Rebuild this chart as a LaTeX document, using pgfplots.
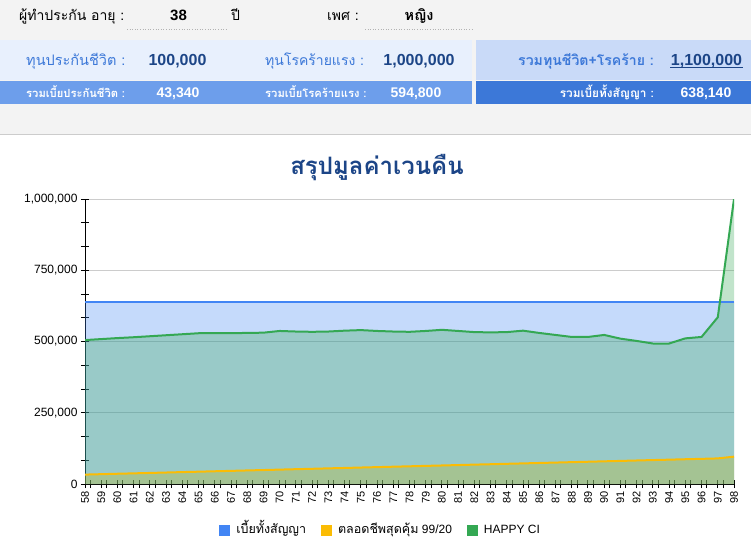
\documentclass[border=0pt]{standalone}
\usepackage{pgfplots}
\pgfplotsset{compat=1.18}
\usepackage{pgfplotstable}
\usepackage{fontspec}
\setmainfont{Liberation Sans}
\newfontfamily\thai[Script=Thai]{Loma}
\definecolor{gblue}{HTML}{4285F4}
\definecolor{gyellow}{HTML}{FBBC04}
\definecolor{ggreen}{HTML}{34A853}
\definecolor{hdrgray}{HTML}{F3F3F3}
\definecolor{lightband}{HTML}{E8F0FD}
\definecolor{rightband}{HTML}{C9DAF8}
\definecolor{midband}{HTML}{6D9EEB}
\definecolor{darkband}{HTML}{3C78D8}
\definecolor{lblblue}{HTML}{3C78D8}
\definecolor{navy}{HTML}{1C4587}
\definecolor{gridgray}{HTML}{CCCCCC}

\pgfplotstableread{
age tot lt hc
58 638140 33000 505000
59 638140 34500 508500
60 638140 36000 512000
61 638140 37400 515000
62 638140 38800 518500
63 638140 40300 522000
64 638140 41800 525500
65 638140 43200 529000
66 638140 44700 529000
67 638140 46100 529500
68 638140 47600 530000
69 638140 49000 531000
70 638140 50500 537000
71 638140 52000 535000
72 638140 53400 534000
73 638140 54900 535000
74 638140 56300 538000
75 638140 57800 540000
76 638140 59200 537000
77 638140 60700 535000
78 638140 62100 534000
79 638140 63600 537000
80 638140 65000 541000
81 638140 66500 537000
82 638140 68000 533000
83 638140 69400 532000
84 638140 70900 533000
85 638140 72300 538000
86 638140 73800 530000
87 638140 75200 523000
88 638140 76700 516000
89 638140 78100 516000
90 638140 79600 523000
91 638140 81000 510000
92 638140 82500 502000
93 638140 84000 493000
94 638140 85400 493000
95 638140 86900 511000
96 638140 88300 516000
97 638140 89800 585000
98 638140 96000 1000000
}\data

\begin{document}
\begin{tikzpicture}
\path[use as bounding box] (0pt,0pt) rectangle (751pt,-543pt);
\begin{scope}[x=1pt,y=-1pt]
% header background
\fill[hdrgray] (0,0) rectangle (751,134);
\fill[white] (0,134.5) rectangle (751,543);
\draw[gridgray, line width=1pt] (0,134.5) -- (751,134.5);
% rows
\fill[lightband] (0,40) rectangle (472,80);
\fill[rightband] (476,40) rectangle (751,80);
\fill[midband] (0,81) rectangle (472,104);
\fill[darkband] (476,81) rectangle (751,104);
% row 1
\node[anchor=base west, inner sep=0] at (19,21) {\thai\fontsize{14}{18}\selectfont ผู้ทำประกัน อายุ :};
\node[anchor=base, inner sep=0] at (178.5,21) {\fontsize{15}{18}\selectfont\bfseries 38};
\node[anchor=base, inner sep=0] at (235.5,21) {\thai\fontsize{14}{18}\selectfont ปี};
\node[anchor=base west, inner sep=0] at (327,21) {\thai\fontsize{14}{18}\selectfont เพศ :};
\node[anchor=base, inner sep=0] at (419,21) {\thai\fontsize{14.5}{18}\selectfont\bfseries หญิง};
\draw[gray!60, dotted, line width=0.6pt] (127,29) -- (227,29);
\draw[gray!60, dotted, line width=0.6pt] (365,29) -- (474,29);
% row 2
\node[anchor=base west, inner sep=0, text=lblblue] at (26,65) {\thai\fontsize{14.5}{18}\selectfont ทุนประกันชีวิต :};
\node[anchor=base, inner sep=0, text=navy] at (177.5,65) {\fontsize{16}{18}\selectfont\bfseries 100,000};
\node[anchor=base west, inner sep=0, text=lblblue] at (265,65) {\thai\fontsize{14}{18}\selectfont ทุนโรคร้ายแรง :};
\node[anchor=base, inner sep=0, text=navy] at (419,65) {\fontsize{16}{18}\selectfont\bfseries 1,000,000};
\node[anchor=base east, inner sep=0, text=lblblue] at (654,65) {\thai\fontsize{14.1}{18}\selectfont\bfseries รวมทุนชีวิต+โรคร้าย :};
\node[anchor=base, inner sep=0, text=navy] at (706.5,65) {\fontsize{16}{18}\selectfont\bfseries 1,100,000};
\draw[navy, line width=1pt] (670,67.5) -- (743,67.5);
% row 3
\node[anchor=base west, inner sep=0, text=white] at (26,97) {\thai\fontsize{11.2}{14}\selectfont\bfseries รวมเบี้ยประกันชีวิต :};
\node[anchor=base, inner sep=0, text=white] at (178,97) {\fontsize{14}{16}\selectfont\bfseries 43,340};
\node[anchor=base west, inner sep=0, text=white] at (265,97) {\thai\fontsize{11.2}{14}\selectfont\bfseries รวมเบี้ยโรคร้ายแรง :};
\node[anchor=base, inner sep=0, text=white] at (416,97) {\fontsize{14}{16}\selectfont\bfseries 594,800};
\node[anchor=base east, inner sep=0, text=white] at (654,97) {\thai\fontsize{11.8}{14}\selectfont\bfseries รวมเบี้ยทั้งสัญญา :};
\node[anchor=base, inner sep=0, text=white] at (706,97) {\fontsize{14}{16}\selectfont\bfseries 638,140};
% title
\node[anchor=base, inner sep=0, text=navy] at (377,174) {\thai\fontsize{24}{28}\selectfont\bfseries สรุปมูลค่าเวนคืน};
\end{scope}

\begin{axis}[
  at={(85pt,-484pt)}, anchor=south west,
  scale only axis, width=649pt, height=285pt,
  xmin=58, xmax=98, ymin=0, ymax=1000000,
  axis x line*=bottom, axis y line*=left,
  axis line style={black, line width=1pt, -},
  xtick={58,59,...,98},
  extra x ticks={58.33,59.33,...,97.33},
  extra x tick labels={},
  extra x tick style={grid=none},
  ytick={0,250000,500000,750000,1000000},
  minor y tick num=2,
  tick align=center,
  major tick length=8pt, minor tick length=8pt,
  tick style={black, line width=1pt},
  ymajorgrids,
  major grid style={gridgray, line width=1pt},
  scaled y ticks=false,
  yticklabel style={/pgf/number format/fixed, /pgf/number format/1000 sep={,}, /pgf/number format/assume math mode=true, font=\fontsize{12}{14}\selectfont},
  xticklabel style={rotate=90, anchor=east, /pgf/number format/assume math mode=true, font=\fontsize{11}{12}\selectfont},
  legend style={at={(0.4555,-0.1614)}, anchor=center, draw=none, fill=none, font=\fontsize{12}{14}\selectfont,
    nodes={text height=9pt, text depth=2.5pt},
    /tikz/every even column/.append style={column sep=13pt},
    /tikz/every odd column/.append style={column sep=4pt}},
  legend columns=3,
  legend cell align=left,
  legend image code/.code={\fill[fill opacity=1, draw=none] (0pt,-5.5pt) rectangle (11pt,5.5pt);},
]
\addplot[fill=gblue, fill opacity=0.3, draw=none] table[x=age,y=tot]{\data} \closedcycle;
\addplot[fill=gyellow, fill opacity=0.3, draw=none] table[x=age,y=lt]{\data} \closedcycle;
\addplot[fill=ggreen, fill opacity=0.3, draw=none] table[x=age,y=hc]{\data} \closedcycle;
\addplot[gblue, line width=2pt, forget plot] table[x=age,y=tot]{\data};
\addplot[gyellow, line width=2pt, forget plot] table[x=age,y=lt]{\data};
\addplot[ggreen, line width=2pt, forget plot] table[x=age,y=hc]{\data};
\legend{{\thai\fontsize{12.5}{14}\selectfont เบี้ยทั้งสัญญา},{\thai\fontsize{12.5}{14}\selectfont ตลอดชีพสุดคุ้ม} 99/20,HAPPY CI}
\end{axis}
\end{tikzpicture}
\end{document}
